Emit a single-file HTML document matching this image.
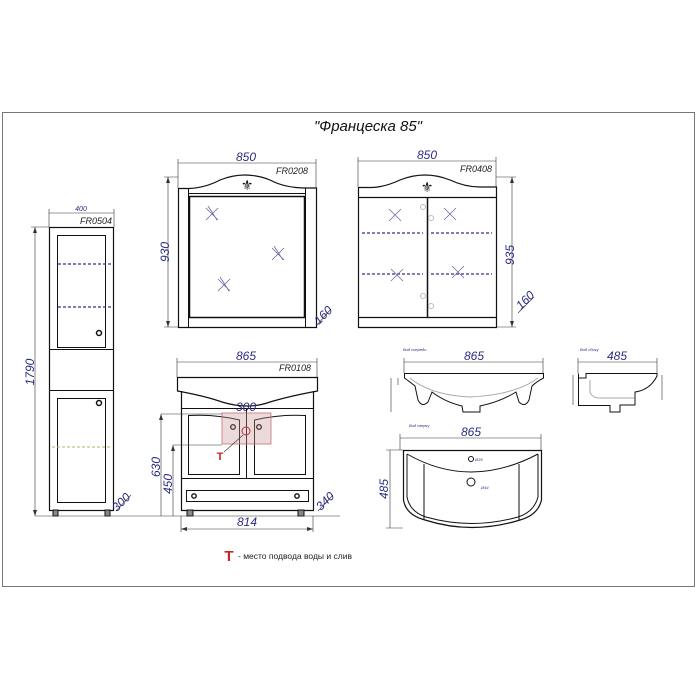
<!DOCTYPE html>
<html><head><meta charset="utf-8"><style>
html,body{margin:0;padding:0;background:#fff;}
svg{display:block;}
text{font-family:"Liberation Sans","DejaVu Sans",sans-serif;}
.d{fill:#2b2b80;font-style:italic;font-size:12px;}
.l{fill:#222;font-style:italic;font-size:9px;}
.s{fill:#2b2b80;font-style:italic;font-size:4px;}
</style></head><body>
<svg width="700" height="700" viewBox="0 0 700 700" xmlns="http://www.w3.org/2000/svg">
<rect x="0" y="0" width="700" height="700" fill="#fff"/>
<rect x="2.5" y="112.5" width="692" height="474" fill="none" stroke="#777" stroke-width="1"/>
<text x="368" y="131" text-anchor="middle" font-size="15" font-style="italic" fill="#111">"Францеска 85"</text>

<g fill="none" stroke="#111" stroke-width="1">
<rect x="49.5" y="227.5" width="64" height="283" stroke-width="1.2"/>
<rect x="57.5" y="235.5" width="48" height="112"/>
<line x1="49.5" y1="349.5" x2="113.5" y2="349.5"/>
<line x1="49.5" y1="390.5" x2="113.5" y2="390.5"/>
<rect x="57.5" y="398.5" width="48" height="104"/>
<circle cx="99" cy="333" r="2.5" stroke-width="1.5"/>
<circle cx="99" cy="403" r="2.5" stroke-width="1.5"/>
<rect x="53" y="510" width="5" height="6" fill="#888"/>
<rect x="105" y="510" width="5" height="6" fill="#888"/>
<path d="M178.5 327.5 V188.5 H188 Q205 188 220 180 Q245 170 270 180 Q285 188 306 188 H316.5 V327.5 Z" stroke-width="1.2"/>
<line x1="188.5" y1="188" x2="188.5" y2="327"/>
<line x1="305.5" y1="188" x2="305.5" y2="327"/>
<rect x="189.5" y="196.5" width="115" height="121" stroke-width="1.5"/>
<line x1="189" y1="193.5" x2="305" y2="193.5"/>
<path d="M358.5 327.5 V187.5 H372 Q385 187 400 180 Q425 170 450 180 Q465 187 480 187 H496.5 V327.5 Z" stroke-width="1.2"/>
<line x1="358.5" y1="197.5" x2="496.5" y2="197.5" stroke-width="1.2"/>
<line x1="358.5" y1="317.5" x2="496.5" y2="317.5" stroke-width="1.2"/>
<line x1="427.5" y1="197" x2="427.5" y2="317" stroke-width="1.5"/>
<path d="M177.5 377.5 H317.5 V391 Q290 396 270 402 Q248 410 222 402 Q205 396 177.5 391 Z" stroke-width="1.2"/>
<path d="M181.5 391 V510.5 H313.5 V391" stroke-width="1.2"/>
<line x1="181.5" y1="408.5" x2="313.5" y2="408.5"/>
<path d="M188.5 474.5 V415.5 Q215 414 239.5 420 V474.5 Z"/>
<path d="M254.5 474.5 V420 Q280 414 305.5 415.5 V474.5 Z"/>
<line x1="246.5" y1="408" x2="246.5" y2="478"/>
<line x1="181.5" y1="478.5" x2="313.5" y2="478.5"/>
<rect x="186.5" y="490.5" width="122" height="11"/>
<circle cx="194" cy="496" r="2.2" stroke-width="1.4"/>
<circle cx="297" cy="496" r="2.2" stroke-width="1.4"/>
<circle cx="233" cy="427" r="2.3" stroke-width="1.4"/>
<circle cx="259" cy="427" r="2.3" stroke-width="1.4"/>
<rect x="187" y="510" width="6" height="6" fill="#888"/>
<rect x="298" y="510" width="6" height="6" fill="#888"/>
<path d="M404.5 373.5 H543.5 V378 Q536 382 532 386 L529 400 Q525 408 519 402 L516 392 Q500 402 480 406 L480 412 H463 L462 406 Q445 402 432 392 L428 402 Q422 408 418 400 L415 386 Q410 382 404.5 378 Z"/>
<path d="M410 378 Q430 395 470 397 Q515 395 538 378" stroke="#aaa"/>
<path d="M578.5 373.5 V405.5 H610 V412 H620 V405 H635 V392 Q650 390 657 376 V373.5 H586 V378 H578.5"/>
<path d="M590 380 V392 Q592 398 600 398 H634" stroke="#aaa"/>
<path d="M403.5 450.5 H541.5 V500 Q538 515 520 520 Q472 535 425 520 Q406 515 403.5 500 Z" stroke-width="1.2"/>
<path d="M407 454 Q470 490 538 454 M407 454 V497 Q410 512 426 517 Q472 530 518 517 Q534 512 538 497 V454"/>
<line x1="424" y1="464" x2="424" y2="520"/>
<line x1="519" y1="464" x2="519" y2="520"/>
<circle cx="471" cy="459" r="2.5"/>
<circle cx="471" cy="482" r="4"/>
</g>

<g stroke="#33338a" stroke-width="1.2" stroke-dasharray="3,2">
<line x1="58" y1="264" x2="111" y2="264"/><line x1="58" y1="307" x2="111" y2="307"/>
<line x1="362" y1="233" x2="423" y2="233"/><line x1="431" y1="233" x2="492" y2="233"/>
<line x1="362" y1="274" x2="423" y2="274"/><line x1="431" y1="274" x2="492" y2="274"/>
</g>
<line x1="52" y1="447" x2="111" y2="447" stroke="#b8b060" stroke-dasharray="3,2"/>

<g stroke="#6a6aa0" stroke-width="0.8">
<path d="M206 208 l12 12 M218 208 l-12 12 M208 206 l9 14"/>
<path d="M272 248 l12 12 M284 248 l-12 12 M274 246 l9 14"/>
<path d="M218 279 l12 12 M230 279 l-12 12 M220 277 l9 14"/>
<path d="M389 209 l12 12 M401 209 l-12 12"/>
<path d="M444 208 l12 12 M456 208 l-12 12"/>
<path d="M391 269 l12 12 M403 269 l-12 12"/>
<path d="M452 266 l12 12 M464 266 l-12 12"/>
</g>
<g fill="none" stroke="#bbb"><circle cx="423" cy="207" r="2.5"/><circle cx="431" cy="218" r="2.5"/><circle cx="423" cy="296" r="2.5"/><circle cx="431" cy="306" r="2.5"/></g>
<text x="247" y="190" text-anchor="middle" font-size="14" fill="#111">⚜</text>
<text x="427" y="192" text-anchor="middle" font-size="14" fill="#111">⚜</text>

<rect x="222" y="413" width="49" height="31" fill="rgba(200,150,150,0.35)" stroke="#c07070" stroke-width="0.8"/>
<circle cx="246" cy="431" r="4" fill="none" stroke="#c03030"/>
<line x1="243" y1="435" x2="224" y2="452" stroke="#333" stroke-width="0.6"/>
<text x="220" y="460" font-size="11" font-weight="bold" fill="#c0262a" text-anchor="middle">T</text>

<g stroke="#333" stroke-width="0.6" fill="none">
<path d="M49 213 H114 M49 209 V227 M114 209 V227"/>
<path d="M178 163 H316 M178 159 V188 M316 159 V188"/>
<path d="M168 177 V327 M164 177 H178 M164 327 H178"/>
<path d="M358 161 H496 M358 157 V187 M496 157 V187"/>
<path d="M512 177 V327 M496 177 H516 M496 327 H516"/>
<path d="M35 227 V516 M31 227 H49 M35 516 H340"/>
<path d="M177 362 H317 M177 358 V377 M317 358 V377"/>
<path d="M161 414 V516 M161 414 H222 M173 445 V516 M173 445 H222"/>
<path d="M181 529 H313 M181 516 V532 M313 516 V532"/>
<path d="M404 362 H543 M404 358 V373 M543 358 V373"/>
<path d="M578 362 H657 M578 358 V373 M657 358 V373"/>
<path d="M400 438 H541 M400 434 V450 M541 434 V450"/>
<path d="M390 450 V528 M386 450 H403 M386 528 H403"/>
<path d="M391 378 V412 M398 378 V385"/>
<path d="M573 375 V405 M662 375 V400"/>
<path d="M116 511 L131 495 M317 325 L331 309 M518 313 L534 297 M318 511 L333 495"/>
</g>
<g fill="#333"><path d="M35 227 l-2 6 h4 z M35 516 l-2 -6 h4 z M168 177 l-2 6 h4z M168 327 l-2 -6 h4z M512 177 l-2 6 h4z M512 327 l-2 -6 h4z M181 529 l6 -2 v4z M313 529 l-6 -2 v4z M161 414 l-2 6h4z M173 445 l-2 6h4z"/></g>

<text class="d" x="246" y="161" text-anchor="middle">850</text>
<text class="d" x="427" y="159" text-anchor="middle">850</text>
<text x="81" y="211" text-anchor="middle" style="font-size:7px;font-style:italic;fill:#2b2b80">400</text>
<text class="d" x="246" y="360" text-anchor="middle">865</text>
<text class="d" x="246" y="411" text-anchor="middle">300</text>
<text class="d" x="247" y="526" text-anchor="middle">814</text>
<text class="d" x="474" y="360" text-anchor="middle">865</text>
<text class="d" x="617" y="360" text-anchor="middle">485</text>
<text class="d" x="471" y="436" text-anchor="middle">865</text>
<text class="d" transform="translate(169,252) rotate(-90)" text-anchor="middle">930</text>
<text class="d" transform="translate(514,255) rotate(-90)" text-anchor="middle">935</text>
<text class="d" transform="translate(34,372) rotate(-90)" text-anchor="middle">1790</text>
<text class="d" transform="translate(160,467) rotate(-90)" text-anchor="middle">630</text>
<text class="d" transform="translate(172,484) rotate(-90)" text-anchor="middle">450</text>
<text class="d" transform="translate(388,489) rotate(-90)" text-anchor="middle">485</text>
<text class="d" transform="translate(124,505) rotate(-45)" text-anchor="middle">300</text>
<text class="d" transform="translate(326,318) rotate(-45)" text-anchor="middle">160</text>
<text class="d" transform="translate(528,303) rotate(-45)" text-anchor="middle">160</text>
<text class="d" transform="translate(328,504) rotate(-45)" text-anchor="middle">340</text>
<text class="s" x="403" y="351">Вид спереди</text>
<text class="s" x="580" y="351">Вид сбоку</text>
<text class="s" x="409" y="427">Вид сверху</text>
<text class="s" x="475" y="461">Ø35</text>
<text class="s" x="481" y="489">Ø44</text>
<text class="l" x="308" y="174" text-anchor="end">FR0208</text>
<text class="l" x="492" y="172" text-anchor="end">FR0408</text>
<text class="l" x="112" y="224" text-anchor="end">FR0504</text>
<text class="l" x="311" y="371" text-anchor="end">FR0108</text>

<text x="229" y="561" font-size="15" font-weight="bold" fill="#c0262a" text-anchor="middle">T</text>
<text x="238" y="559" font-size="8.5" fill="#222" font-family="Liberation Serif, serif">- место подвода воды и слив</text>
</svg>
</body></html>
